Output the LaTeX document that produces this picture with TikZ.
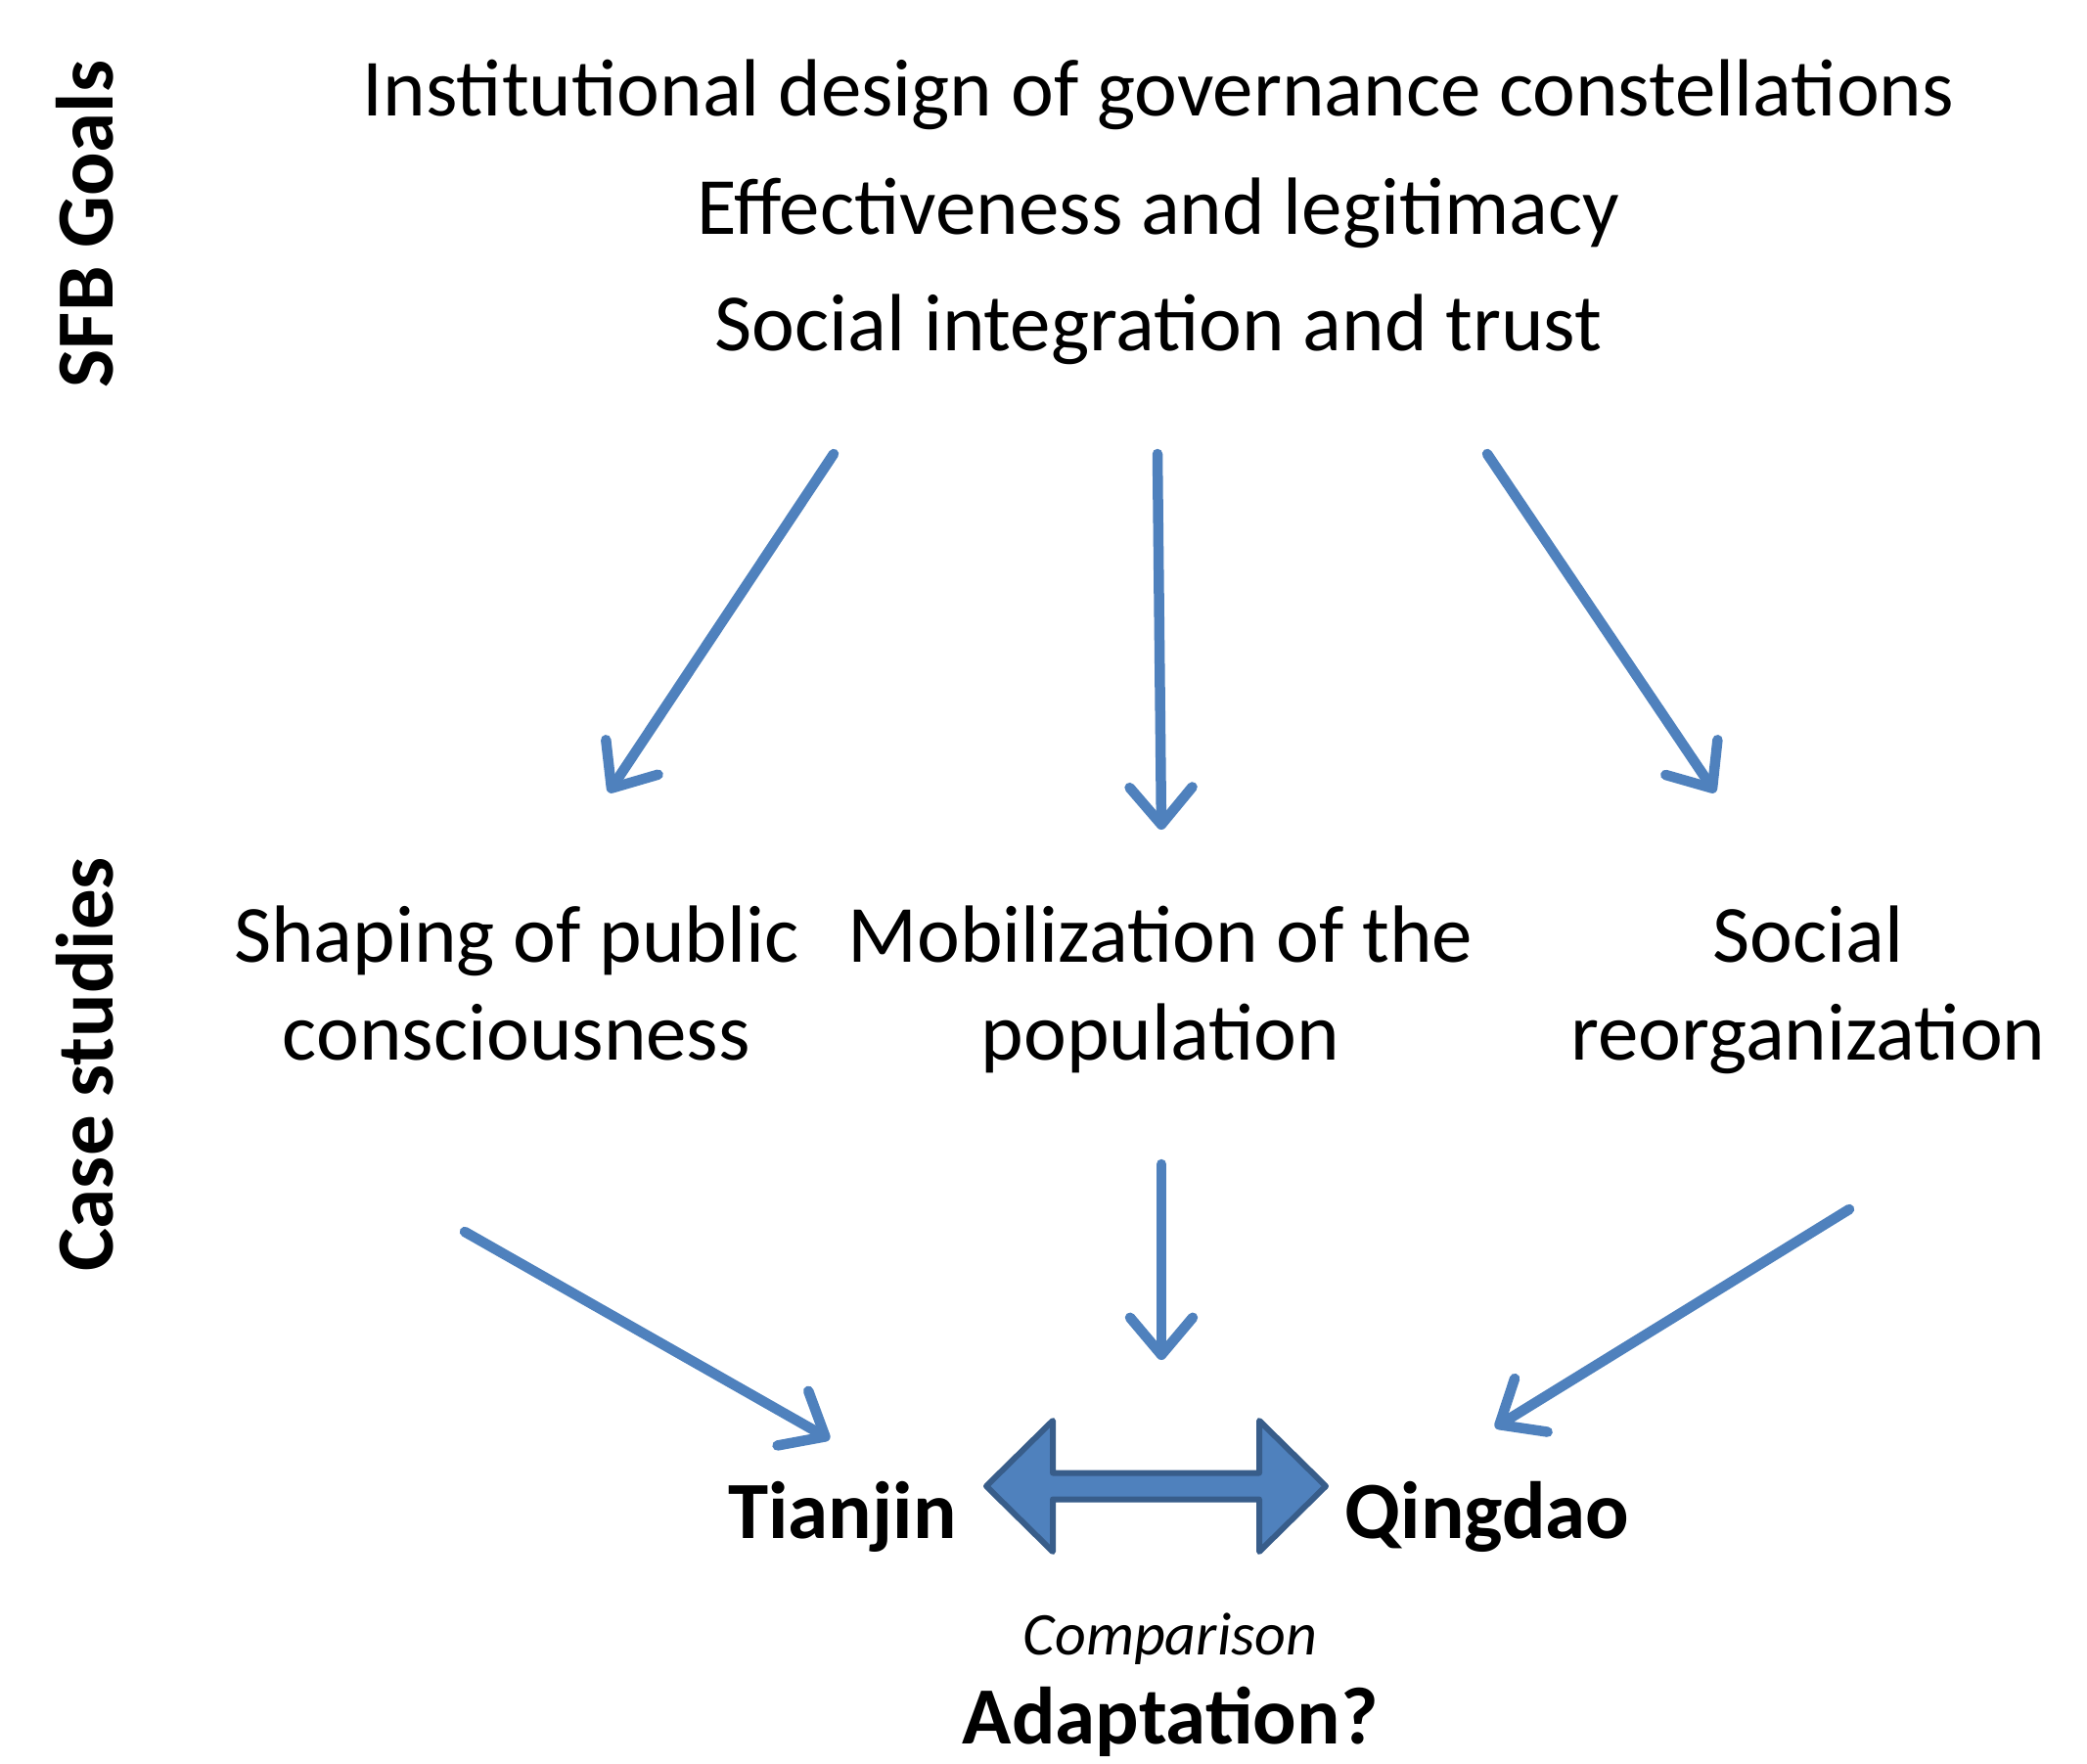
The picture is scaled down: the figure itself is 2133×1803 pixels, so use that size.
\documentclass[tikz,border=0pt]{standalone}
\usepackage{fontspec}
\setmainfont{Carlito}
\usetikzlibrary{arrows.meta}
\definecolor{arrblue}{HTML}{4F81BD}
\definecolor{arrdark}{HTML}{385D8A}
\tikzset{
  txt/.style={anchor=base, inner sep=0pt, align=center, font=\fontsize{83}{100}\selectfont},
  boldtxt/.style={txt, font=\fontsize{83}{100}\selectfont\bfseries},
  sidelabel/.style={boldtxt, rotate=90},
  flow/.style={draw=arrblue, line width=10.5pt, line cap=round,
    -{Straight Barb[length=38pt, width=64pt, round]}},
}
\begin{document}
\begin{tikzpicture}[x=1pt,y=-1pt]
\useasboundingbox (0,0) rectangle (2133,1803);
% side labels
\node[sidelabel] (sfb) at (115,229) {SFB Goals};
\node[sidelabel] (case) at (115,1088) {Case studies};
% goals
\node[txt] (g1) at (1184,119) {Institutional design of governance constellations};
\node[txt] (g2) at (1184,240) {Effectiveness and legitimacy};
\node[txt] (g3) at (1184,358) {Social integration and trust};
% case studies (base anchor = last line baseline)
\node[txt] (c1) at (528,1083) {Shaping of public\\consciousness};
\node[txt] (c2) at (1186,1083) {Mobilization of the\\population};
\node[txt] (c3) at (1848,1083) {Social\\reorganization};
% cities
\node[boldtxt] (tj) at (861,1572) {Tianjin};
\node[boldtxt] (qd) at (1520,1572) {Qingdao};
\node[txt, font=\fontsize{62}{74}\selectfont\itshape] (cmp) at (1196,1691) {Comparison};
\node[boldtxt] (ad) at (1196,1782) {Adaptation?};
% arrow end points
\coordinate (a1s) at (852,464);
\coordinate (a1e) at (622,810);
\coordinate (a2s) at (1183,464);
\coordinate (a2e) at (1187,848);
\coordinate (a3s) at (1520,464);
\coordinate (a3e) at (1753,810);
\coordinate (b1s) at (475,1259);
\coordinate (b1e) at (848,1471);
\coordinate (b2s) at (1187,1190);
\coordinate (b2e) at (1187,1390);
\coordinate (b3s) at (1890,1236);
\coordinate (b3e) at (1528,1459);
\draw[flow] (a1s) -- (a1e);
\draw[flow] (a2s) -- (a2e);
\draw[flow] (a3s) -- (a3e);
\draw[flow] (b1s) -- (b1e);
\draw[flow] (b2s) -- (b2e);
\draw[flow] (b3s) -- (b3e);
% double arrow
\draw[fill=arrblue, draw=arrdark, line width=6pt, line join=round]
  (1008,1519) -- (1076,1452) -- (1076,1505.5) -- (1287,1505.5) -- (1287,1452)
  -- (1355,1519) -- (1287,1586) -- (1287,1532.5) -- (1076,1532.5) -- (1076,1586) -- cycle;
\end{tikzpicture}
\end{document}
